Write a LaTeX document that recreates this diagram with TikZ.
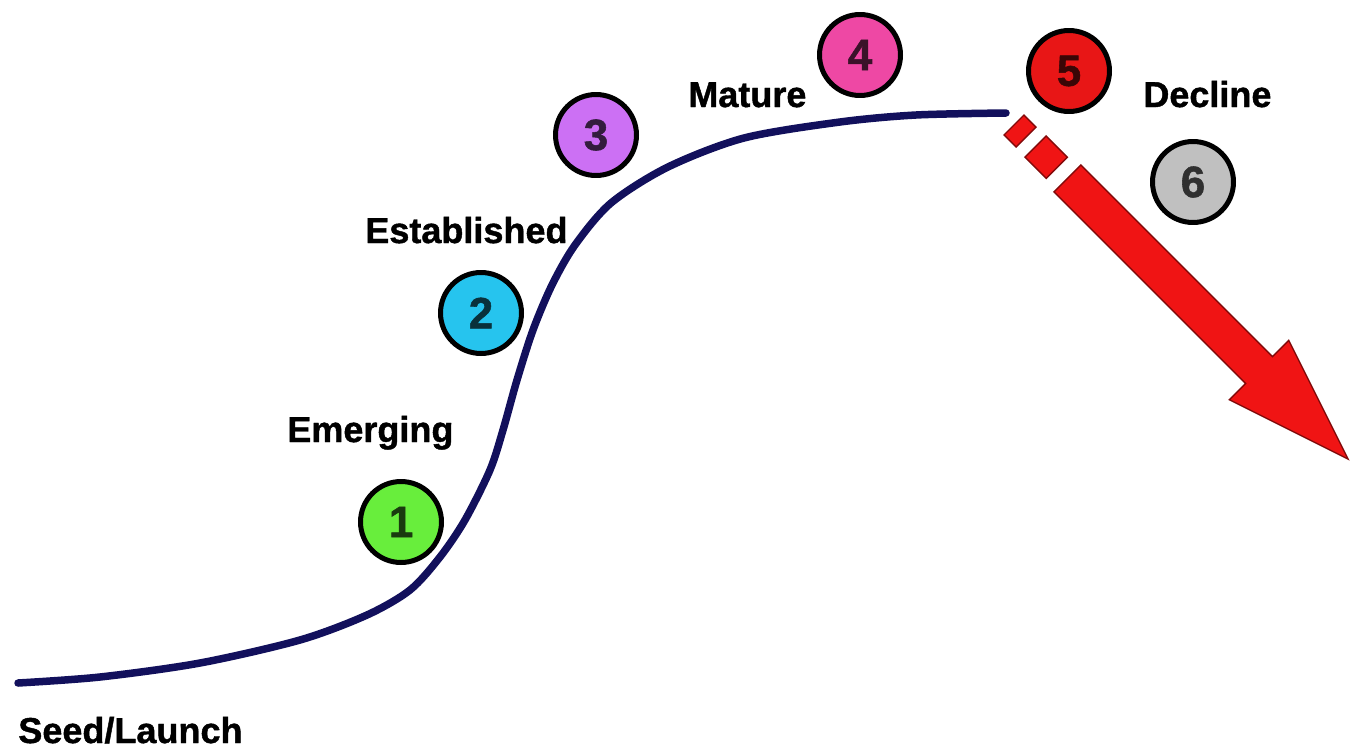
\documentclass[tikz,border=0pt]{standalone}
\usepackage{fontspec}
\setmainfont{Liberation Sans}
\newfontfamily\heavyfont[BoldFeatures={FakeBold=1.2}]{Liberation Sans}
\usetikzlibrary{positioning}
\definecolor{curvenavy}{RGB}{18,16,92}
\definecolor{stgreen}{RGB}{104,238,60}
\definecolor{stcyan}{RGB}{38,196,238}
\definecolor{stviolet}{RGB}{204,112,244}
\definecolor{stpink}{RGB}{238,72,164}
\definecolor{stred}{RGB}{232,22,22}
\definecolor{stgray}{RGB}{192,192,192}
\definecolor{declred}{RGB}{240,20,20}
\definecolor{declborder}{RGB}{130,10,10}

\begin{document}
\begin{tikzpicture}[
    x=0.02cm, y=-0.02cm,
    stage/.style={circle,draw=black,line width=0.1cm,minimum size=1.62cm,inner sep=0pt,
      fill=#1,text=#1!25!black,font=\fontsize{25}{25}\selectfont\heavyfont\bfseries},
    lbl/.style={anchor=base west,inner sep=0pt,font=\fontsize{20.5}{24}\selectfont\heavyfont\bfseries},
    lifecurve/.style={draw=curvenavy,line width=0.15cm,line cap=round},
    decl/.style={fill=declred,draw=declborder,line width=0.8pt,line join=miter}
  ]
    \useasboundingbox (0,0) rectangle (1369,754);

    % life cycle curve
    \draw[lifecurve] plot[smooth,tension=0.5] coordinates {
      (18,683) (100,677) (200,663) (300,640) (367,615) (410,590) (440,557)
      (465,520) (490,470) (503,430) (517,380) (533,330) (552,285) (575,245)
      (611,203) (668,167) (744,138) (840,122) (916,115) (1006,113)};

    % decline arrow
    \begin{scope}[shift={(1020,131)},rotate=-45]
      \filldraw[decl] (-8.5,-14) -- (8.5,-14) -- (8.5,14) -- (-8.5,14) -- cycle;
      \filldraw[decl] (22,-15) -- (52,-15) -- (52,15) -- (22,15) -- cycle;
      \filldraw[decl] (67,-19) -- (338,-19) -- (338,-42) -- (464,0)
        -- (338,42) -- (338,19) -- (67,19) -- cycle;
    \end{scope}

    \node[stage=stgreen] (s1) at (401,522) {1};
    \node[stage=stcyan] (s2) at (481,313) {2};
    \node[stage=stviolet] (s3) at (596,135) {3};
    \node[stage=stpink] (s4) at (860,55) {4};
    \node[stage=stred] (s5) at (1069,71) {5};
    \node[stage=stgray] (s6) at (1193,182) {6};

    \node[lbl] (seed) at (18,743) {Seed/Launch};
    \node[lbl] (emerging) at (287,442) {Emerging};
    \node[lbl] (established) at (365,243) {Established};
    \node[lbl] (mature) at (688,107) {Mature};
    \node[lbl] (decline) at (1143,107) {Decline};
\end{tikzpicture}
\end{document}
